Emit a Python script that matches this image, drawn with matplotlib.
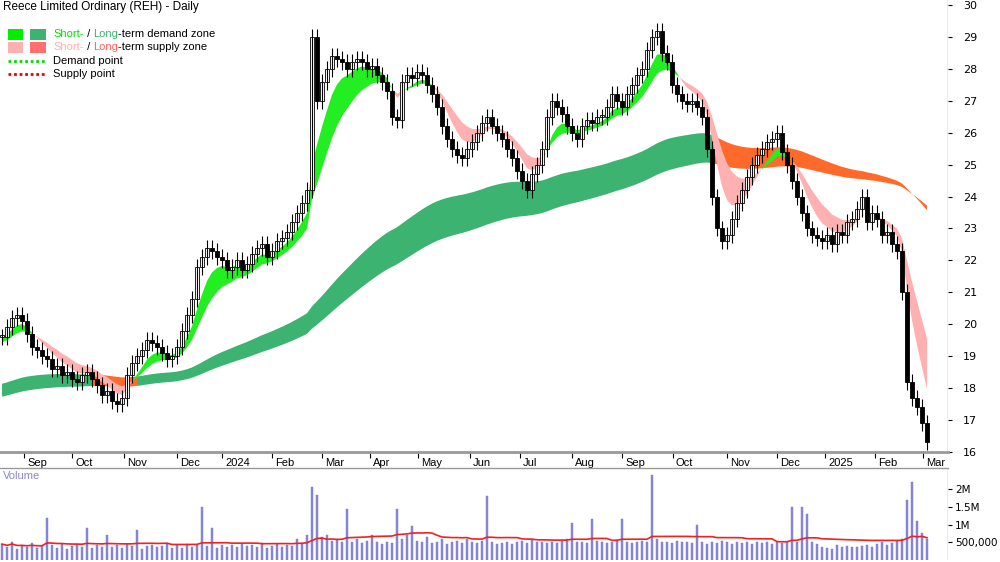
import matplotlib
matplotlib.use("Agg")
import matplotlib.pyplot as plt
import numpy as np
import pandas as pd
from matplotlib.patches import Rectangle

closes = [19.6,19.9,20.2,20.3,20.1,19.7,19.3,19.2,19.0,18.9,
18.6,18.7,18.4,18.5,18.3,18.2,18.4,18.5,18.3,18.1,
17.8,17.9,17.6,17.5,17.7,18.4,18.8,19.0,19.2,19.5,
19.4,19.3,19.1,18.9,19.0,19.3,19.8,20.3,20.8,21.8,
22.1,22.4,22.3,22.1,22.0,21.7,21.8,22.0,21.7,21.9,
22.2,22.4,22.5,22.1,22.3,22.6,22.7,22.9,23.2,23.5,
23.8,24.2,29.0,27.0,27.6,28.0,28.4,28.3,28.2,28.0,
28.2,28.3,28.2,28.0,28.1,27.8,27.6,27.3,26.5,26.4,
27.6,27.8,27.7,27.9,27.8,27.5,27.2,26.8,26.2,25.8,
25.5,25.3,25.2,25.5,25.7,26.0,26.3,26.5,26.2,26.0,
25.8,25.5,25.2,24.8,24.5,24.2,24.7,25.0,25.5,26.5,
27.0,26.8,26.6,26.2,26.0,25.8,26.2,26.4,26.3,26.5,
26.5,26.8,27.2,27.0,26.8,27.2,27.5,27.8,28.0,28.6,
29.0,29.2,28.5,28.2,27.5,27.2,27.0,26.9,27.0,26.8,
26.5,25.5,24.0,23.0,22.6,22.8,23.3,23.8,24.2,24.6,
25.0,25.3,25.5,25.7,25.8,26.0,25.4,25.0,24.5,24.0,
23.5,23.0,22.8,22.7,22.6,22.8,22.5,22.9,22.8,23.2,
23.3,23.6,24.0,23.2,23.5,23.3,22.8,22.9,22.5,22.3,
21.0,18.2,17.7,17.4,16.9,16.3]

volume_k = [450,380,520,300,410,360,480,330,400,1200,
420,350,460,310,390,440,370,900,330,410,
360,700,380,420,340,450,390,850,310,400,
430,360,390,470,350,410,330,460,380,420,
1500,400,900,350,430,380,410,360,440,390,
420,360,480,330,400,450,370,420,390,600,
460,700,2050,1850,650,700,550,600,500,1450,
520,600,480,550,700,500,450,520,480,1450,
600,700,950,550,500,650,480,520,600,450,
500,550,480,600,520,470,550,1800,500,450,
480,520,460,500,550,480,600,520,500,470,
500,480,550,600,1050,520,500,480,1150,550,
500,480,520,560,1150,500,480,520,550,500,
2400,600,520,500,480,550,500,520,480,1000,
500,460,520,480,550,500,450,520,480,500,
460,500,480,520,450,500,480,520,1500,520,
1500,1300,500,450,380,350,300,420,380,400,
360,380,400,420,380,450,500,420,480,550,
600,1700,2200,1100,750,600]

start_long_fast = 18.1
start_long_slow = 17.7
start_short_fast = 19.6
start_short_slow = 19.4

month_labels = ["Sep","Oct","Nov","Dec","2024","Feb","Mar","Apr","May","Jun","Jul",
                "Aug","Sep","Oct","Nov","Dec","2025","Feb","Mar"]
month_pos = [22,70,122,175,220,270,320,368,416,468,518,570,620,671,725,775,823,873,921]

def ema(vals, span, seed):
    a = 2.0/(span+1)
    out = []
    e = seed
    for v in vals:
        e = e + a*(v-e)
        out.append(e)
    return np.array(out)

c = np.array(closes)
n = len(c)
x = np.arange(n)
o = np.concatenate([[c[0]], c[:-1]])
hi = np.maximum(o, c) + 0.25
lo = np.minimum(o, c) - 0.25

sf = ema(c, 6, start_short_fast)
ss = ema(c, 12, start_short_slow)
lf = ema(c, 80, start_long_fast)
ls = ema(c, 115, start_long_slow)
lup = np.maximum(lf, ls)

def grow(m):
    g = m.copy()
    g[1:] |= m[:-1]
    return g

fig = plt.figure(figsize=(10, 5.62), dpi=100)
ax = fig.add_axes([0.0, 1-452/562, 0.948, 452/562])
axv = fig.add_axes([0.0, 2/562, 0.948, 92/562])

px = 5.0
ax.set_xlim(-0.4, 948/px - 0.4)
axv.set_xlim(-0.4, 948/px - 0.4)
ax.set_ylim(16, 30 + 5/31.93)

sup_long = sf < lup
ax.fill_between(x, lf, ls, where=grow(~sup_long), color="#3cb371", lw=0)
ax.fill_between(x, lf, ls, where=grow(sup_long), color="#ff6a2a", lw=0)
ax.fill_between(x, sf, ss, where=sf >= ss, color="#22ee22", interpolate=True, lw=0)
ax.fill_between(x, sf, ss, where=sf < ss, color="#ffb0b0", interpolate=True, lw=0)

for i in range(n):
    ax.vlines(x[i], lo[i], hi[i], color="black", lw=0.8)
    bottom = min(o[i], c[i]); h = max(abs(c[i]-o[i]), 0.05)
    fc = "white" if c[i] >= o[i] else "black"
    ax.add_patch(Rectangle((x[i]-0.35, bottom), 0.7, h, facecolor=fc, edgecolor="black", lw=0.6))

ax.yaxis.tick_right()
ax.set_yticks(range(16, 31))
ax.tick_params(axis="y", labelsize=8, length=3, direction="out", pad=8)
ax.set_xticks([p/px for p in month_pos])
ax.set_xticklabels([])
ax.tick_params(axis="x", length=4, direction="out")
for lab, p in zip(month_labels, month_pos):
    ax.text(p/px + 0.6, -0.013, lab, transform=ax.get_xaxis_transform(), fontsize=8,
            ha="left", va="top", fontfamily="Liberation Sans")
for sp in ["top", "left", "right"]:
    ax.spines[sp].set_visible(False)
ax.spines["bottom"].set_color("#999999")
ax.spines["bottom"].set_linewidth(2)
ax.axvline(948/px - 0.4, color="#999999", lw=1)

ax.text(0.003, 0.997, "Reece Limited Ordinary (REH) - Daily", transform=ax.transAxes,
        fontsize=8.5, va="top", fontfamily="Liberation Sans")
ly = [0.924, 0.895]
for k, (c1, c2) in enumerate([("#00ee00", "#3cb371"), ("#ffb0b0", "#ff7070")]):
    ax.add_patch(Rectangle((0.008, ly[k]-0.012), 0.016, 0.024, transform=ax.transAxes, color=c1, lw=0))
    ax.add_patch(Rectangle((0.032, ly[k]-0.012), 0.016, 0.024, transform=ax.transAxes, color=c2, lw=0))
fig.canvas.draw()
def chain(prev, s, col):
    bb = prev.get_window_extent()
    inv = ax.transAxes.inverted()
    xr = inv.transform((bb.x1, bb.y0))[0]
    t = ax.text(xr, prev.get_position()[1], s, color=col, transform=ax.transAxes, fontsize=8, va="center", fontfamily="Liberation Sans")
    fig.canvas.draw()
    return t
t1 = ax.text(0.056, ly[0], "Short-", color="#00dd00", transform=ax.transAxes, fontsize=8, va="center", fontfamily="Liberation Sans")
fig.canvas.draw()
t = chain(t1, " / ", "black"); t = chain(t, "Long", "#3cb371"); t = chain(t, "-term demand zone", "black")
t2 = ax.text(0.056, ly[1], "Short-", color="#ffb0b0", transform=ax.transAxes, fontsize=8, va="center", fontfamily="Liberation Sans")
fig.canvas.draw()
t = chain(t2, " / ", "black"); t = chain(t, "Long", "#ff6060"); t = chain(t, "-term supply zone", "black")
ax.plot([0.008, 0.048], [0.866, 0.866], transform=ax.transAxes, color="#00dd00", lw=2, ls=(0, (1, 1)))
ax.plot([0.008, 0.048], [0.837, 0.837], transform=ax.transAxes, color="#ee0000", lw=2, ls=(0, (1, 1)))
ax.text(0.056, 0.866, "Demand point", transform=ax.transAxes, fontsize=8, va="center", fontfamily="Liberation Sans")
ax.text(0.056, 0.837, "Supply point", transform=ax.transAxes, fontsize=8, va="center", fontfamily="Liberation Sans")

v = np.array(volume_k) * 1000
axv.bar(x, v, width=0.45, color="#8888dd", edgecolor="#7777cc", lw=0.3)
vma = pd.Series(v).rolling(25, min_periods=1).mean().values
axv.plot(x, vma, color="#ee2222", lw=1.2)
axv.set_ylim(0, 2.6e6)
axv.yaxis.tick_right()
axv.set_yticks([500000, 1000000, 1500000, 2000000])
axv.set_yticklabels(["500,000", "1M", "1.5M", "2M"])
axv.tick_params(axis="y", labelsize=7.5, length=3, pad=2)
axv.set_xticks([])
for sp in ["top", "left", "right", "bottom"]:
    axv.spines[sp].set_visible(False)
axv.axvline(948/px - 0.4, color="#999999", lw=1)
axv.text(0.003, 0.97, "Volume", transform=axv.transAxes, color="#8888cc", fontsize=8, va="top", fontfamily="Liberation Sans")
fig.add_artist(plt.Line2D([0, 0.948], [1-468/562, 1-468/562], color="#999999", lw=1))

fig.savefig("out.png", dpi=100)
